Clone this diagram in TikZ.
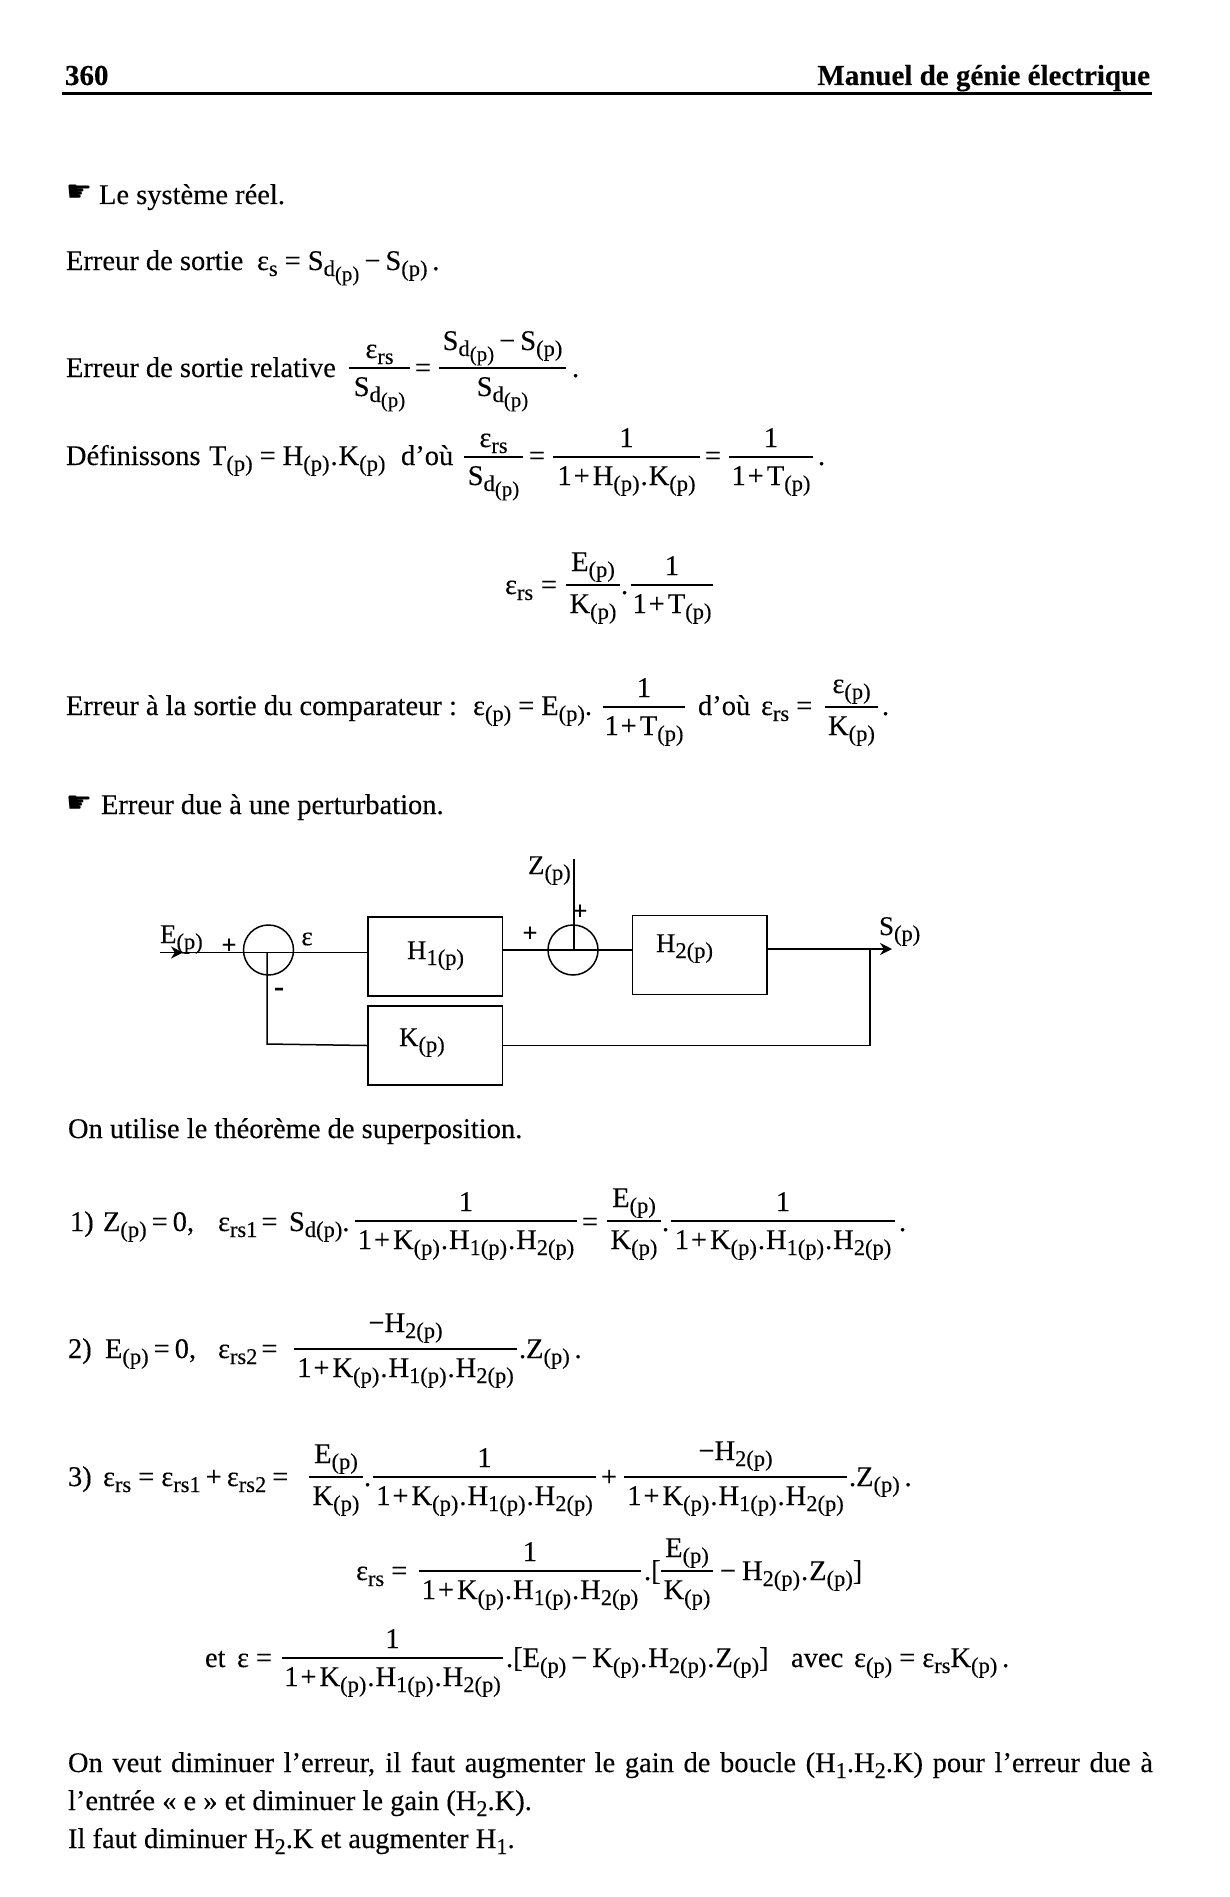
\documentclass[tikz,border=0pt]{standalone}
\usepackage{fontspec}
\setmainfont[FakeBold=0.15]{Liberation Serif}
\newfontfamily\dingf{DejaVu Sans}
\usetikzlibrary{arrows.meta}
\newcommand\Sb[1]{\raisebox{-6pt}{\fontsize{22.5}{23}\selectfont #1}}
\newcommand\Pp{\Sb{(p)}}
\newcommand\Sdp{S\Sb{d\raisebox{-5pt}{\fontsize{21}{21}\selectfont (p)}}}
\newcommand\Eps{\char"03B5}
\newcommand\Ers{\Eps\Sb{rs}}
\newcommand\Pl{\kern2pt+\kern3pt}
\newcommand\Eq{\kern7pt=\kern7pt}
\newcommand\Mn{\kern5pt−\kern5pt}
\newcommand\Dt{\kern1pt.\kern1pt}
\newcommand\DenA{1\Pl K\Pp\Dt H\Sb{1(p)}\Dt H\Sb{2(p)}}
\newcommand\DenT{1\Pl T\Pp}
\newcommand\Hand{{\dingf\fontsize{29}{29}\selectfont ☛}}
\newcommand\Tx[4]{\node[txt] (#1) at (#2,#3) {#4};}
\newcommand\Fr[7]{%
  \draw[fbar] (#2,#4) -- (#3,#4);
  \node[txt,anchor=base] (#1n) at ({(#2+#3)/2},{#4-#5}) {#6};
  \node[txt,anchor=base] (#1d) at ({(#2+#3)/2},{#4+28}) {#7};}
\tikzset{
  txt/.style={anchor=base west,inner sep=0pt,outer sep=0pt,font=\fontsize{28.5}{34}\selectfont},
  fbar/.style={line width=1.7pt},
  blk/.style={draw,line width=1.5pt,inner sep=0pt,minimum width=134.5pt,minimum height=79pt},
  sumc/.style={draw,circle,line width=1.5pt,inner sep=0pt,minimum size=50pt},
  wire/.style={line width=1.5pt},
  tip/.style={line width=2.4pt,-{Stealth[length=12pt,width=12pt]}}
}
\begin{document}
\begin{tikzpicture}[x=1pt,y=-1pt]
\path[use as bounding box,fill=white] (0,0) rectangle (1229,1897);
% header
\node[txt,font=\fontsize{29}{34}\selectfont\bfseries] (pg) at (65,85) {360};
\node[txt,anchor=base east,font=\fontsize{29}{34}\selectfont\bfseries] (ttl) at (1150,85) {Manuel de génie électrique};
\draw[line width=3pt] (62,94) -- (1152,94);
% text block 1
\Tx{ha}{66}{201}{\Hand}
\Tx{la}{99}{204}{Le système réel.}
\Tx{lb}{66}{270}{Erreur de sortie}
\Tx{lc}{257}{270}{\Eps\Sb{s}\Eq\Sdp\Mn S\Pp\,.}
\Tx{ld}{66}{377}{Erreur de sortie relative}
\Fr{fa}{349}{410}{368}{10}{\Ers}{\Sdp}
\Tx{ea}{415}{377}{=}
\Fr{fb}{439}{566}{368}{18}{\Sdp\Mn S\Pp}{\Sdp}
\Tx{pa}{572}{377}{.}
\Tx{le}{66}{465}{Définissons}
\Tx{lf}{209}{465}{T\Pp\Eq H\Pp\Dt K\Pp}
\Tx{lg}{401}{465}{d’où}
\Fr{fc}{464}{523}{457}{10}{\Ers}{\Sdp}
\Tx{eb}{529}{465}{=}
\Fr{fd}{553}{700}{457}{10}{1}{1\Pl H\Pp\Dt K\Pp}
\Tx{ec}{705}{465}{=}
\Fr{fe}{729}{813}{457}{10}{1}{\DenT}
\Tx{pb}{818}{465}{.}
% eps rs
\Tx{li}{505}{594}{\Ers}
\Tx{ed}{541}{594}{=}
\Fr{ff}{566}{620}{585}{14}{E\Pp}{K\Pp}
\Tx{pc}{621}{594}{.}
\Fr{fg}{631}{713}{585}{10}{1}{\DenT}
% comparateur
\Tx{lj}{66}{715}{Erreur à la sortie du comparateur :}
\Tx{lk}{473}{715}{\Eps\Pp\Eq E\Pp.}
\Fr{fh}{603}{685}{707}{10}{1}{\DenT}
\Tx{ll}{698}{715}{d’où}
\Tx{lm}{761}{715}{\Ers\Eq}
\Fr{fi}{825}{878}{707}{14}{\Eps\Pp}{K\Pp}
\Tx{pd}{882}{715}{.}
\Tx{hb}{66}{812}{\Hand}
\Tx{ln}{101}{814}{Erreur due à une perturbation.}
% block diagram
\node[sumc] (c1) at (268.5,950) {};
\node[sumc] (c2) at (573,950) {};
\node[blk] (h1) at (435,956.5) {};
\node[blk] (h2) at (699.5,955) {};
\node[blk] (k) at (435,1045.5) {};
\coordinate (ein) at (160,952.5);
\coordinate (etip) at (183,952.5);
\coordinate (zin) at (574,859);
\coordinate (nout) at (870,949);
\coordinate (stip) at (892,949);
\coordinate (nfb) at (267,1044);
\draw[wire] (ein) -- (ein -| h1.west);
\draw[tip,line width=1.8pt] (ein) -- (etip);
\draw[wire] (h1.east |- c2) -- (h2.west |- c2);
\draw[wire] (zin) -- (zin |- c2);
\draw[wire] (h2.east |- nout) -- (nout);
\draw[tip] (nout) -- (stip);
\draw[wire] (nout) |- (k.east);
\draw[wire] (k.west) -- (nfb) -- (nfb |- ein);
\node[txt,font=\fontsize{27}{30}\selectfont] (le) at (160,943) {E\Pp};
\node[txt,anchor=center,font=\fontsize{26}{26}\selectfont\bfseries] (pe) at (229,946) {+};
\node[txt,anchor=center,font=\fontsize{27}{30}\selectfont] (leps) at (307,939) {\Eps};
\node[txt,font=\fontsize{27}{30}\selectfont] (lh1) at (407,959) {H\Sb{1(p)}};
\node[txt,anchor=center,font=\fontsize{26}{26}\selectfont\bfseries] (pa2) at (530,934) {+};
\node[txt,anchor=center,font=\fontsize{26}{26}\selectfont\bfseries] (pz) at (580,912) {+};
\node[txt,font=\fontsize{27}{30}\selectfont] (lh2) at (656,952) {H\Sb{2(p)}};
\node[txt,font=\fontsize{27}{30}\selectfont] (ls) at (879,935) {S\Pp};
\node[txt,font=\fontsize{27}{30}\selectfont] (lk) at (399,1046) {K\Pp};
\node[txt,font=\fontsize{27}{30}\selectfont] (lz) at (528,874) {Z\Pp};
\node[txt,anchor=center,font=\fontsize{30}{30}\selectfont\bfseries] (mn) at (279,992) {-};
% text block 2
\Tx{lo}{68}{1138}{On utilise le théorème de superposition.}
% eq 1
\Tx{oa}{70}{1231}{1)}
\Tx{ob}{103}{1231}{Z\Pp\kern5pt=\kern5pt 0,}
\Tx{oc}{218}{1231}{\Eps\Sb{rs1}\kern4pt=}
\Tx{od}{289}{1231}{S\Sb{d(p)}.}
\Fr{ga}{355}{577}{1221}{10}{1}{\DenA}
\Tx{oe}{582}{1231}{=}
\Fr{gb}{607}{661}{1221}{14}{E\Pp}{K\Pp}
\Tx{of}{662}{1231}{.}
\Fr{gc}{671}{895}{1221}{10}{1}{\DenA}
\Tx{og}{899}{1231}{.}
% eq 2
\Tx{qa}{68}{1358}{2)}
\Tx{qb}{105}{1358}{E\Pp\kern5pt=\kern5pt 0,}
\Tx{qc}{218}{1358}{\Eps\Sb{rs2}\kern4pt=}
\Fr{gd}{294}{517}{1349}{17}{−H\Sb{2(p)}}{\DenA}
\Tx{qd}{519}{1358}{.Z\Pp\,.}
% eq 3
\Tx{ra}{68}{1486}{3)}
\Tx{rb}{103}{1486}{\Ers\Eq\Eps\Sb{rs1}\kern5pt+\kern5pt\Eps\Sb{rs2}\kern6pt=}
\Fr{ge}{309}{363}{1477}{14}{E\Pp}{K\Pp}
\Tx{rc}{364}{1486}{.}
\Fr{gf}{373}{596}{1477}{10}{1}{\DenA}
\Tx{rd}{601}{1486}{+}
\Fr{gg}{624}{847}{1477}{17}{−H\Sb{2(p)}}{\DenA}
\Tx{re}{849}{1486}{.Z\Pp\,.}
% eq 4
\Tx{sa}{356}{1580}{\Ers\Eq}
\Fr{gh}{419}{641}{1571}{10}{1}{\DenA}
\Tx{sb}{644}{1580}{.[}
\Fr{gi}{661}{713}{1571}{14}{E\Pp}{K\Pp}
\Tx{sc}{720}{1580}{−}
\Tx{sd}{742}{1580}{H\Sb{2(p)}\Dt Z\Pp]}
% eq 5
\Tx{ta}{205}{1667}{et}
\Tx{tb}{237}{1667}{\Eps\Eq}
\Fr{gj}{282}{503}{1658}{10}{1}{\DenA}
\Tx{tc}{506}{1667}{.[E\Pp\Mn K\Pp\Dt H\Sb{2(p)}\Dt Z\Pp]}
\Tx{td}{791}{1667}{avec}
\Tx{te}{854}{1667}{\Eps\Pp\Eq\Ers K\Pp\,.}
% closing text
\node[txt] (u1) at (68,1772) {\hbox to 1085pt{On veut diminuer l’erreur, il faut augmenter le gain de boucle (H\Sb{1}.H\Sb{2}.K) pour l’erreur due à}};
\Tx{u2}{68}{1810}{l’entrée « e » et diminuer le gain (H\Sb{2}.K).}
\Tx{u3}{68}{1848}{Il faut diminuer H\Sb{2}.K et augmenter H\Sb{1}.}
\end{tikzpicture}
\end{document}
